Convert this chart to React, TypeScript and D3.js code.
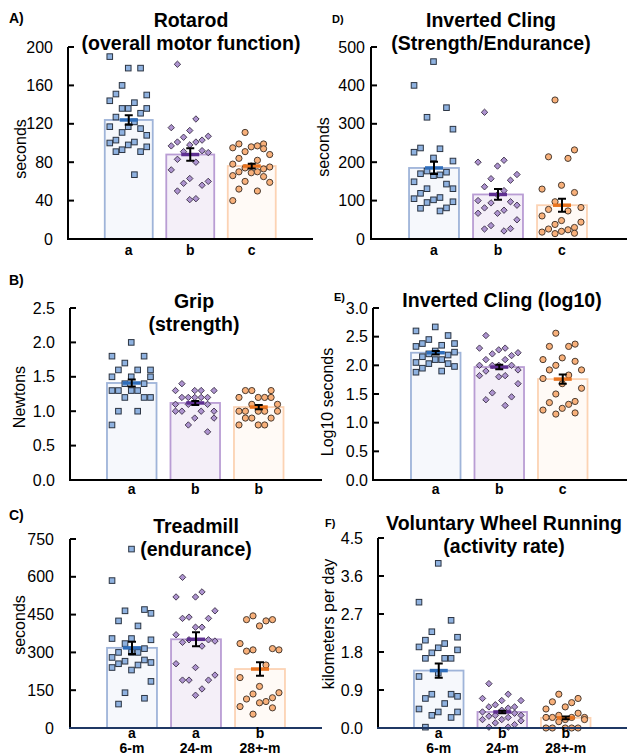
import React from 'react';
import * as d3 from 'd3';

// groups
const ages = ['6-m', '24-m', '28+-m'];

// A) rotarod, seconds
const rotarod6m = [178, 190, 178, 160, 150, 151, 142, 144, 136, 136, 136, 131, 127, 122, 117, 117, 115, 111, 108, 103, 101, 100, 98, 96, 93, 91, 91, 67];
const rotarod24m = [182, 125, 116, 113, 107, 106, 103, 101, 101, 98, 97, 92, 91, 90, 83, 80, 72, 63, 60, 58, 56, 50, 42, 41];
const rotarod28m = [111, 99, 99, 97, 96, 95, 94, 91, 88, 84, 82, 78, 76, 75, 74, 73, 70, 70, 69, 66, 65, 60, 59, 52, 50, 40];
const rotarodMean = [124, 88, 76];
const rotarodSem = [5, 6.5, 2.5];
const rotarodLetters = ['a', 'b', 'c'];
const rotarodTicks = [0, 40, 80, 120, 160, 200];

// B) grip, newtons
const grip6m = [2.0, 1.8, 1.8, 1.7, 1.6, 1.6, 1.6, 1.5, 1.5, 1.5, 1.4, 1.4, 1.3, 1.3, 1.3, 1.3, 1.2, 1.2, 1.2, 1.0, 1.0, 0.8];
const grip24m = [1.4, 1.3, 1.3, 1.3, 1.3, 1.2, 1.2, 1.2, 1.2, 1.2, 1.1, 1.1, 1.1, 1.0, 1.0, 1.0, 1.0, 0.9, 0.9, 0.8, 0.7];
const grip28m = [1.3, 1.3, 1.3, 1.2, 1.2, 1.2, 1.2, 1.1, 1.1, 1.0, 1.0, 1.0, 1.0, 1.0, 0.9, 0.9, 0.9, 0.8, 0.8, 0.8];
const gripMean = [1.41, 1.12, 1.06];
const gripSem = [0.05, 0.03, 0.03];
const gripLetters = ['a', 'b', 'b'];
const gripTicks = [0, 0.5, 1.0, 1.5, 2.0, 2.5];

// C) treadmill, seconds
const tread6m = [710, 585, 470, 465, 455, 425, 405, 355, 355, 350, 335, 315, 300, 300, 300, 280, 270, 265, 260, 255, 250, 240, 230, 185, 140, 118, 95];
const tread24m = [598, 540, 520, 520, 465, 440, 435, 435, 400, 400, 370, 350, 350, 345, 340, 325, 255, 240, 210, 190, 190, 190, 155, 130];
const tread28m = [445, 430, 430, 425, 405, 335, 315, 310, 310, 305, 250, 200, 165, 140, 135, 120, 115, 105, 100, 85, 80, 55];
const treadMean = [318, 352, 234];
const treadSem = [24, 28, 27];
const treadLetters = ['a', 'a', 'b'];
const treadTicks = [0, 150, 300, 450, 600, 750];

// D) inverted cling, seconds
const cling6m = [462, 400, 342, 317, 286, 237, 235, 226, 211, 203, 177, 174, 170, 167, 165, 149, 143, 131, 131, 119, 108, 105, 102, 97, 95, 81, 80, 73];
const cling24m = [330, 205, 200, 190, 168, 157, 153, 136, 126, 115, 100, 97, 94, 88, 81, 75, 67, 67, 50, 35, 27, 26, 21];
const cling28m = [362, 232, 214, 210, 140, 130, 121, 97, 82, 77, 73, 60, 48, 44, 38, 30, 26, 24, 20, 18, 15, 14];
const clingMean = [185, 116, 88];
const clingSem = [16, 14, 17];
const clingLetters = ['a', 'b', 'c'];
const clingTicks = [0, 100, 200, 300, 400, 500];

// E) inverted cling, log10 seconds
const log6m = [2.67, 2.6, 2.52, 2.45, 2.38, 2.38, 2.35, 2.33, 2.25, 2.23, 2.2, 2.18, 2.15, 2.1, 2.1, 2.05, 2.03, 2.03, 1.98, 1.95, 1.9, 1.88];
const log24m = [2.52, 2.3, 2.3, 2.27, 2.22, 2.2, 2.17, 2.1, 2.1, 2.0, 2.0, 2.0, 2.0, 1.92, 1.9, 1.82, 1.82, 1.8, 1.68, 1.52, 1.45, 1.4, 1.3];
const log28m = [2.56, 2.37, 2.33, 2.33, 2.13, 2.1, 2.07, 2.0, 1.92, 1.92, 1.83, 1.77, 1.68, 1.6, 1.5, 1.37, 1.35, 1.32, 1.25, 1.22, 1.17, 1.15];
const logMean = [2.22, 1.97, 1.76];
const logSem = [0.03, 0.04, 0.08];
const logLetters = ['a', 'b', 'c'];
const logTicks = [0, 0.5, 1.0, 1.5, 2.0, 2.5, 3.0];

// F) wheel running, km per day
const wheel6m = [3.9, 2.98, 2.55, 2.28, 2.15, 2.08, 2.0, 1.92, 1.9, 1.85, 1.78, 1.65, 1.65, 1.65, 1.3, 1.22, 0.8, 0.8, 0.75, 0.7, 0.58, 0.45, 0.38, 0.38, 0.3, 0.25, 0.02];
const wheel24m = [1.05, 0.8, 0.7, 0.65, 0.65, 0.55, 0.5, 0.5, 0.47, 0.42, 0.38, 0.35, 0.3, 0.3, 0.28, 0.25, 0.2, 0.2, 0.17, 0.12, 0.08, 0.02, 0.02];
const wheel28m = [0.8, 0.7, 0.62, 0.6, 0.5, 0.45, 0.35, 0.3, 0.25, 0.25, 0.25, 0.25, 0.2, 0.2, 0.15, 0.0, 0.0, 0.0, 0.0, 0.0];
const wheelMean = [1.36, 0.38, 0.24];
const wheelSem = [0.17, 0.03, 0.03];
const wheelLetters = ['a', 'b', 'b'];
const wheelTicks = [0, 0.9, 1.8, 2.7, 3.6, 4.5];

const FONT = 'Liberation Sans, Arial, sans-serif';
const barStroke = ['#9fb4d9', '#b99dd4', '#fcd3b4'];
const barFill = ['#f6f8fc', '#f4eff8', '#fffaf6'];
const dotFill = ['#8fb2e0', '#ad93cf', '#f8b07a'];
const meanColor = ['#2f6ebb', '#5e2f91', '#e8731f'];
// spread of dots across the bar, column picked by index
const colOrder = [3, 0, 5, 2, 6, 1, 4, 0, 3, 6, 2, 5, 1, 4];

function Marker({ shape, x, y, fill }) {
  if (shape === 0) {
    return <rect x={x - 2.8} y={y - 2.8} width={5.6} height={5.6} fill={fill} stroke={'#2b3442'} strokeWidth={1} />;
  }
  if (shape === 1) {
    const r = 3.2;
    return <path d={`M${x},${y - r}L${x + r},${y}L${x},${y + r}L${x - r},${y}Z`} fill={fill} stroke={'#3a2f45'} strokeWidth={0.9} />;
  }
  return <circle cx={x} cy={y} r={3.1} fill={fill} stroke={'#4a3b30'} strokeWidth={1} />;
}

function Panel(props) {
  const { p } = props;
  const y = d3.scaleLinear().domain([0, p.max]).range([p.y1, p.y0]);
  const x = d3.scaleBand().domain(ages).range(p.xr).paddingInner(0.22).paddingOuter(0.11);
  const bw = x.bandwidth();
  const fmt = p.dec ? d3.format('.1f') : d3.format('d');
  const groups = [p.g1, p.g2, p.g3];
  return (
    <g fontFamily={FONT}>
      <text x={p.labelX} y={p.labelY} fontSize={p.labelSize} fontWeight={'bold'}>{p.label}</text>
      {p.title.map((t, i) => (
        <text key={i} x={p.titleX} y={p.titleY + i * 23} fontSize={19.5} fontWeight={'bold'} textAnchor={'middle'}>{t}</text>
      ))}
      <text transform={`translate(${p.ylabX}, ${p.ylabY}) rotate(-90)`} fontSize={16} textAnchor={'middle'} dominantBaseline={'central'}>{p.ylab}</text>

      {/* bars */}
      {ages.map((a, i) => (
        <rect key={a} x={x(a)} y={y(p.mean[i])} width={bw} height={y(0) - y(p.mean[i])} fill={barFill[i]} stroke={barStroke[i]} strokeWidth={1.8} />
      ))}

      {/* points */}
      {ages.map((a, gi) => {
        const col = d3.scalePoint().domain(d3.range(7)).range([x(a) + 5, x(a) + bw - 6]);
        return groups[gi].map((v, i) => (
          <Marker key={a + i} shape={gi} x={col(colOrder[(i + gi * 5) % colOrder.length])} y={y(v)} fill={dotFill[gi]} />
        ));
      })}

      {/* mean and error */}
      {ages.map((a, i) => {
        const cx = x(a) + bw / 2;
        return (
          <g key={a}>
            <path d={`M${cx - 9},${y(p.mean[i])}H${cx + 9}`} stroke={meanColor[i]} strokeWidth={3.5} />
            <path d={`M${cx},${y(p.mean[i] + p.sem[i])}V${y(p.mean[i] - p.sem[i])}M${cx - 4},${y(p.mean[i] + p.sem[i])}H${cx + 4}M${cx - 4},${y(p.mean[i] - p.sem[i])}H${cx + 4}`} stroke={'#000'} strokeWidth={2} fill={'none'} />
          </g>
        );
      })}

      {/* axes */}
      <path d={`M${p.ax},${y(p.max)}V${y(0)}`} stroke={'#000'} strokeWidth={2} />
      {p.ticks.map((t) => (
        <g key={t}>
          <path d={`M${p.ax},${y(t)}H${p.ax + 6}`} stroke={'#000'} strokeWidth={2} />
          <text x={p.ax - p.tickGap} y={y(t)} fontSize={16} textAnchor={'end'} dominantBaseline={'central'}>{fmt(t)}</text>
        </g>
      ))}
      <path d={`M${p.ax - 1},${y(0)}H${p.axEnd}`} stroke={p.xColor} strokeWidth={2} />

      {ages.map((a, i) => (
        <g key={a} fontWeight={'bold'} fontSize={14} textAnchor={'middle'}>
          <text x={x(a) + bw / 2} y={y(0) + p.letterDy}>{p.letters[i]}</text>
          {p.showAge ? <text x={x(a) + bw / 2} y={y(0) + p.letterDy + 15}>{a}</text> : null}
        </g>
      ))}
    </g>
  );
}

const panels = [
  { label: 'A)', labelX: 9, labelY: 23, labelSize: 14, title: ['Rotarod', '(overall motor function)'], titleX: 191, titleY: 27, ylab: 'seconds', ylabX: 20, ylabY: 149,
    max: 200, ticks: rotarodTicks, y0: 47, y1: 239, ax: 68, axEnd: 313, xr: [98, 282.5], tickGap: 15, xColor: '#000', letterDy: 16,
    g1: rotarod6m, g2: rotarod24m, g3: rotarod28m, mean: rotarodMean, sem: rotarodSem, letters: rotarodLetters, dec: false, showAge: false },
  { label: 'B)', labelX: 9, labelY: 285, labelSize: 14, title: ['Grip', '(strength)'], titleX: 194, titleY: 308, ylab: 'Newtons', ylabX: 19, ylabY: 397,
    max: 2.5, ticks: gripTicks, y0: 308, y1: 480, ax: 70, axEnd: 322, xr: [100, 290.5], tickGap: 15, xColor: '#000', letterDy: 14,
    g1: grip6m, g2: grip24m, g3: grip28m, mean: gripMean, sem: gripSem, letters: gripLetters, dec: true, showAge: false },
  { label: 'C)', labelX: 9, labelY: 520, labelSize: 14, title: ['Treadmill', '(endurance)'], titleX: 196, titleY: 533, ylab: 'seconds', ylabX: 19, ylabY: 625,
    max: 750, ticks: treadTicks, y0: 539, y1: 728, ax: 70, axEnd: 322, xr: [100, 292], tickGap: 16, xColor: '#1f3864', letterDy: 10,
    g1: tread6m, g2: tread24m, g3: tread28m, mean: treadMean, sem: treadSem, letters: treadLetters, dec: false, showAge: true },
  { label: 'D)', labelX: 332, labelY: 23, labelSize: 11, title: ['Inverted Cling', '(Strength/Endurance)'], titleX: 491, titleY: 27, ylab: 'seconds', ylabX: 323, ylabY: 147,
    max: 500, ticks: clingTicks, y0: 47, y1: 239, ax: 371, axEnd: 627, xr: [402, 594], tickGap: 6, xColor: '#000', letterDy: 16,
    g1: cling6m, g2: cling24m, g3: cling28m, mean: clingMean, sem: clingSem, letters: clingLetters, dec: false, showAge: false },
  { label: 'E)', labelX: 334, labelY: 301, labelSize: 11, title: ['Inverted Cling (log10)'], titleX: 502, titleY: 307, ylab: 'Log10 seconds', ylabX: 327, ylabY: 402,
    max: 3.0, ticks: logTicks, y0: 308, y1: 480, ax: 373, axEnd: 627, xr: [404, 594.5], tickGap: 5, xColor: '#000', letterDy: 14,
    g1: log6m, g2: log24m, g3: log28m, mean: logMean, sem: logSem, letters: logLetters, dec: true, showAge: false },
  { label: 'F)', labelX: 325, labelY: 527, labelSize: 11, title: ['Voluntary Wheel Running', '(activity rate)'], titleX: 504, titleY: 530, ylab: 'kilometers per day', ylabX: 328, ylabY: 624,
    max: 4.5, ticks: wheelTicks, y0: 538, y1: 728, ax: 378, axEnd: 627, xr: [407, 597.5], tickGap: 15, xColor: '#1f3864', letterDy: 10,
    g1: wheel6m, g2: wheel24m, g3: wheel28m, mean: wheelMean, sem: wheelSem, letters: wheelLetters, dec: true, showAge: true },
];

export default function App() {
  return (
    <svg width={627} height={756} style={{ position: 'absolute', left: 0, top: 0, background: '#fff' }}>
      {panels.map((p) => <Panel key={p.label} p={p} />)}
    </svg>
  );
}
